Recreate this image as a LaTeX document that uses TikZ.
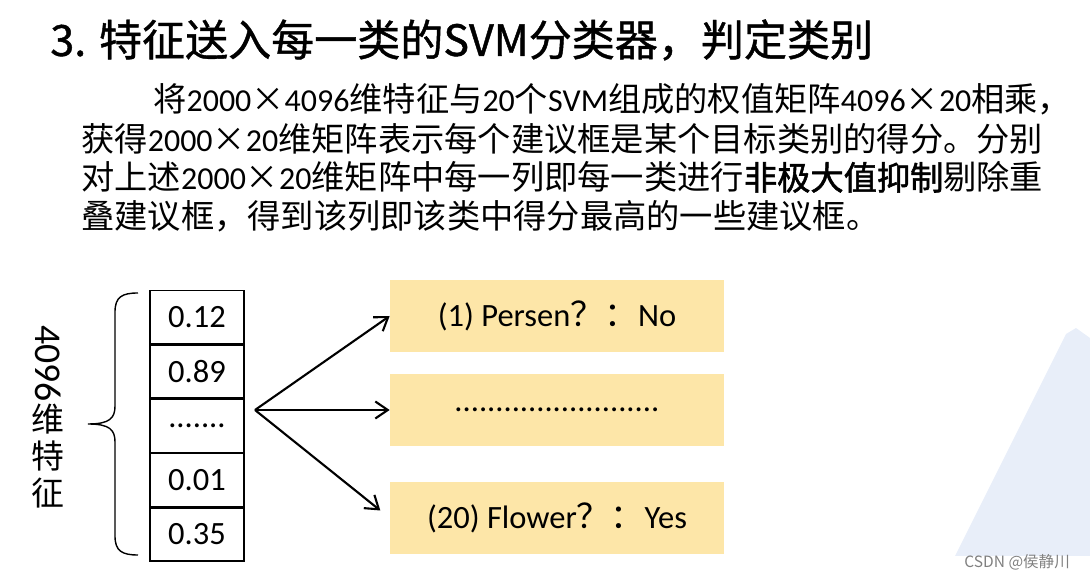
\documentclass[tikz,border=0pt]{standalone}
\usepackage{fontspec}
\setmainfont{Carlito}
\newfontfamily\cjk[Scale=1.04]{Noto Sans CJK SC}
\newfontfamily\cjkemph[Scale=1.04,FakeBold=1.6]{Noto Sans CJK SC}
\newfontfamily\cjkhead[FakeBold=1]{Noto Sans CJK SC}
\usepackage{tikz}
\usetikzlibrary{positioning,arrows.meta}
\definecolor{butter}{RGB}{253,230,168}
\definecolor{mist}{RGB}{232,238,249}
\newcommand{\zh}[1]{{\cjk #1}}

\begin{document}
\begin{tikzpicture}[x=0.02cm, y=-0.02cm,
    cell/.style={draw, line width=0.8pt, minimum width=1.88cm, minimum height=1.06cm,
      inner sep=0pt, font=\fontsize{18.5}{20}\selectfont},
    answer/.style={fill=butter, minimum width=6.68cm, minimum height=1.46cm,
      inner sep=0pt, font=\fontsize{18.5}{20}\selectfont},
    line/.style={anchor=base west, inner sep=0pt, font=\fontsize{18.2}{22}\selectfont},
    fan/.style={-{Straight Barb[length=0.25cm,width=0.34cm]}, line width=1.2pt}]
    \useasboundingbox (0,0) rectangle (1090,577);

    % faint backdrop in the corner
    \fill[mist] (955,556) -- (1066,334) -- (1076,328) -- (1090,338) -- (1090,556) -- cycle;
    \node[anchor=east, text=gray, font=\cjk\fontsize{8.5}{10}\selectfont] (mark) at (1076,562)
      {CSDN @侯静川};

    % heading and text
    \node[anchor=west, inner sep=0pt, font=\cjkhead\fontsize{24.5}{28}\selectfont] (title) at (50,40)
      {3. 特征送入每一类的SVM分类器，判定类别};
    \node[line] (line1) at (153,112)
      {\zh{将}2000\zh{×}4096\zh{维特征与}20\zh{个}SVM\zh{组成的权值矩阵}4096\zh{×}20\zh{相乘，}};
    \node[line] (line2) at (81,152)
      {\zh{获得}2000\zh{×}20\zh{维矩阵表示每个建议框是某个目标类别的得分。分别}};
    \node[line] (line3) at (81,190)
      {\zh{对上述}2000\zh{×}20\zh{维矩阵中每一列即每一类进行{\cjkemph 非极大值抑制}剔除重}};
    \node[line] (line4) at (81,229)
      {\zh{叠建议框，得到该列即该类中得分最高的一些建议框。}};

    % feature column
    \node[cell] (c1) at (197,317) {0.12};
    \node[cell, below=0pt of c1] (c2) {0.89};
    \node[cell, below=0pt of c2] (c3) {.......};
    \node[cell, below=0pt of c3] (c4) {0.01};
    \node[cell, below=0pt of c4] (c5) {0.35};

    \draw[line width=0.8pt] (138,293) .. controls (122,293) and (115,297) .. (115,312)
      -- (115,406) .. controls (115,418) and (110,424) .. (88,424)
      .. controls (110,424) and (115,430) .. (115,442)
      -- (115,536) .. controls (115,551) and (122,555) .. (138,555);
    \node[anchor=north, align=center, inner sep=0pt, font=\fontsize{18}{21}\selectfont] (featlabel) at (48,325)
      {\rotatebox{-90}{\fontsize{21.5}{22}\selectfont 4096}\\[0pt]\zh{维}\\\zh{特}\\\zh{征}};

    % per-class answers
    \node[answer] (a1) at (557,316) {(1) Persen\zh{？：}No};
    \node[answer] (a2) at (557,410) {.........................};
    \node[answer] (a3) at (557,518) {(20) Flower\zh{？：}Yes};

    \coordinate (fork) at (255,410);
    \draw[fan] (fork) -- (a1.west);
    \draw[fan] (fork) -- (a2.west);
    \draw[fan, shorten >=0.24cm] (fork) -- (a3.west);
  \end{tikzpicture}
\end{document}
